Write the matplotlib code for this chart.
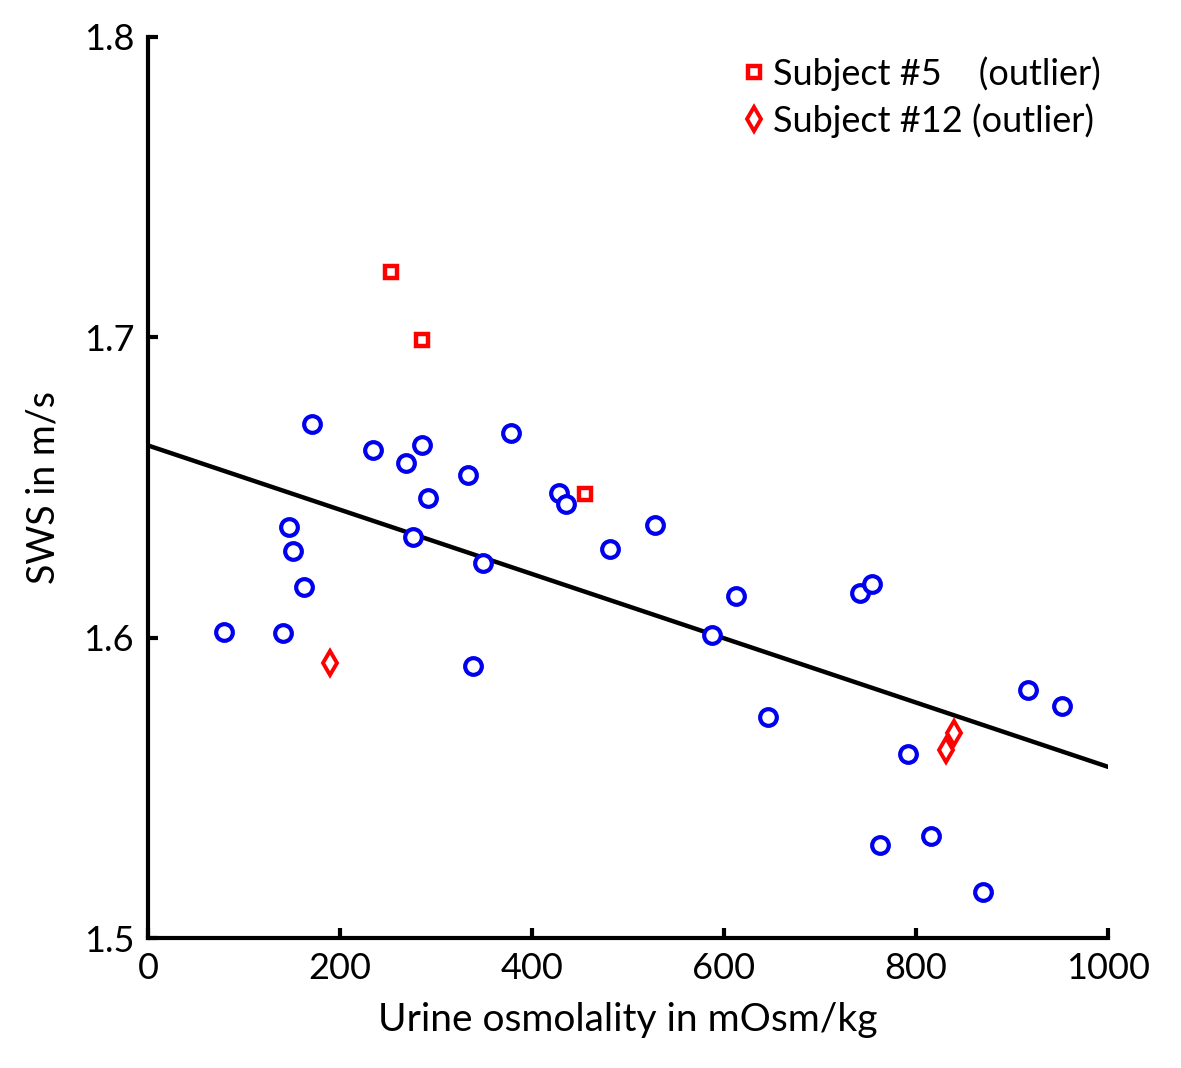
import matplotlib.pyplot as plt

plt.rcParams['font.family'] = ['Lato', 'DejaVu Sans']

# regular subjects
osm = [79, 141, 147, 151, 162, 171, 234, 269, 285, 276, 292, 333, 339, 349, 378,
       428, 435, 481, 528, 587, 613, 646, 742, 754, 762, 792, 816, 870, 917, 952]
sws = [1.602, 1.6015, 1.637, 1.629, 1.617, 1.671, 1.6625, 1.658, 1.664, 1.6335,
       1.6465, 1.654, 1.5905, 1.625, 1.668, 1.648, 1.6445, 1.6295, 1.6375, 1.601,
       1.614, 1.5735, 1.6149, 1.6178, 1.531, 1.5612, 1.534, 1.5153, 1.5826, 1.5772]

# outliers
s5_osm = [253, 285, 455]
s5_sws = [1.7217, 1.699, 1.6478]
s12_osm = [190, 831, 840]
s12_sws = [1.5915, 1.5626, 1.5682]

# regression line
fit_x = [0, 1000]
fit_y = [1.664, 1.557]

fig = plt.figure(figsize=(11.81, 10.68), dpi=100)
ax = fig.add_axes([0.1253, 0.1217, 0.8129, 0.8437])

ax.plot(fit_x, fit_y, '-', color='black', lw=3.2, zorder=2)
ax.plot(osm, sws, 'o', mfc='white', mec='#0000ee', mew=3, ms=12, zorder=3)
ax.plot(s5_osm, s5_sws, 's', mfc='white', mec='#ff0000', mew=3.2, ms=9, zorder=3,
        label='Subject #5    (outlier)')
ax.plot(s12_osm, s12_sws, 'd', mfc='white', mec='#ff0000', mew=2.8, ms=12, zorder=3,
        label='Subject #12 (outlier)')

ax.set_xlim(0, 1000)
ax.set_ylim(1.5, 1.8)
ax.set_xticks([0, 200, 400, 600, 800, 1000])
ax.set_yticks([1.5, 1.6, 1.7, 1.8])
ax.set_yticklabels(['1.5', '1.6', '1.7', '1.8'])

for s in ['top', 'right']:
    ax.spines[s].set_visible(False)
for s in ['left', 'bottom']:
    ax.spines[s].set_linewidth(3)
ax.tick_params(direction='in', length=7, width=3, labelsize=26, pad=10)

ax.set_xlabel('Urine osmolality in mOsm/kg', fontsize=28, labelpad=12)
ax.set_ylabel('SWS in m/s', fontsize=27, labelpad=16)

ax.legend(loc='upper right', bbox_to_anchor=(1.007, 0.995), frameon=False, fontsize=26,
          handlelength=0.4, handletextpad=0.3, labelspacing=0.35, borderaxespad=0)

fig.savefig('out.png', dpi=100)
